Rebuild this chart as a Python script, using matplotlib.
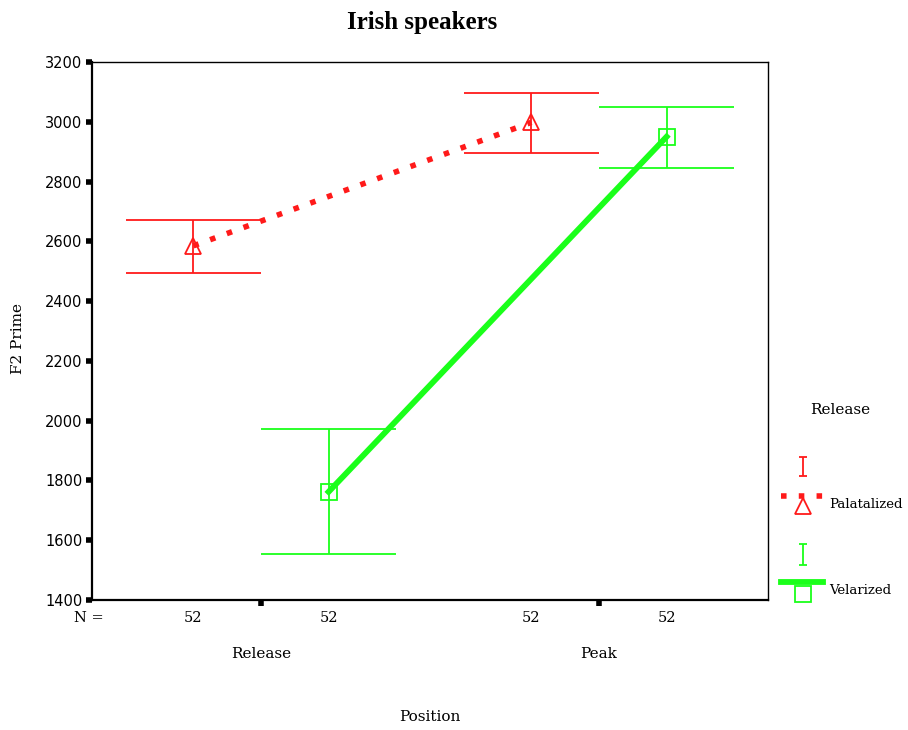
import numpy as np
import matplotlib
matplotlib.use('Agg')
import matplotlib.pyplot as plt
from matplotlib.transforms import blended_transform_factory

positions = ['Release', 'Peak']
groups = ['Palatalized', 'Velarized']
colors = ['#ff1a1a', '#1aff1a']
n_counts = [[52, 52], [52, 52]]

pal_mean = [2585, 2998]
pal_low = [2495, 2895]
pal_high = [2673, 3095]

vel_mean = [1762, 2950]
vel_low = [1555, 2845]
vel_high = [1972, 3048]

serif = 'DejaVu Serif'
sans = 'DejaVu Sans'

fig = plt.figure(figsize=(9.08, 7.30), dpi=100)
ax = fig.add_axes([92/908, 130/730, 676/908, 538/730])

x = np.arange(len(positions))
offs = [-0.2, 0.2]
capw = 0.2

series = [(pal_mean, pal_low, pal_high), (vel_mean, vel_low, vel_high)]
styles = [dict(ls=(0, (1, 2.2)), lw=4.0, marker='^', ms=12),
          dict(ls='-', lw=4.2, marker='s', ms=12)]

for i, (m, lo, hi) in enumerate(series):
    xs = x + offs[i]
    c = colors[i]
    ax.vlines(xs, lo, hi, color=c, lw=1.3, zorder=2)
    ax.hlines(lo, xs - capw, xs + capw, color=c, lw=1.3, zorder=2)
    ax.hlines(hi, xs - capw, xs + capw, color=c, lw=1.3, zorder=2)
    st = styles[i]
    ax.plot(xs, m, color=c, ls=st['ls'], lw=st['lw'], zorder=3)
    ax.plot(xs, m, ls='none', marker=st['marker'], ms=st['ms'],
            mfc='none', mec=c, mew=1.3, zorder=4)

ax.set_xlim(-0.5, 1.5)
ax.set_ylim(1400, 3200)
ax.set_yticks(np.arange(1400, 3201, 200))
ax.tick_params(axis='y', direction='out', length=4, width=4, pad=3,
               labelsize=10.5)
for lab in ax.get_yticklabels():
    lab.set_fontfamily(sans)

ax.set_xticks(x)
ax.set_xticklabels(positions, fontfamily=serif, fontsize=11)
ax.tick_params(axis='x', which='major', direction='out', length=4, width=4,
               pad=30)
minor = sorted([p + o for p in x for o in offs])
ax.set_xticks(minor, minor=True)
ax.set_xticklabels([str(n) for row in zip(*n_counts) for n in row],
                   minor=True, fontfamily=serif, fontsize=10.5)
ax.tick_params(axis='x', which='minor', length=0, pad=8)

trans = blended_transform_factory(ax.transAxes, ax.transAxes)
ax.text(-0.005, -0.033, 'N =', transform=trans, ha='center', va='center',
        fontfamily=serif, fontsize=10.5)

for s in ['left', 'bottom']:
    ax.spines[s].set_linewidth(1.6)
for s in ['top', 'right']:
    ax.spines[s].set_linewidth(1.0)

fig.text(430/908, 1 - 717/730, 'Position', ha='center', va='center',
         fontfamily=serif, fontsize=11)
fig.text(18/908, 1 - 338/730, 'F2 Prime', ha='center', va='center',
         rotation=90, fontfamily=serif, fontsize=11)
fig.text(422/908, 1 - 22/730, 'Irish speakers', ha='center', va='center',
         fontfamily='Liberation Serif', fontsize=18, fontweight='bold')

# legend drawn by hand, in pixel-like coordinates
lax = fig.add_axes([770/908, 0, 138/908, 1])
lax.set_xlim(770, 908)
lax.set_ylim(730, 0)
lax.axis('off')
lax.text(840, 410, 'Release', ha='center', va='center', fontfamily=serif,
         fontsize=11)
legend_y = [(457, 476, 496, 506, 504), (544, 565, 582, 594, 591)]
for i, (ytop, ybot, yline, ymark, ytext) in enumerate(legend_y):
    c = colors[i]
    lax.vlines(803, ytop, ybot, color=c, lw=1.3)
    lax.hlines([ytop, ybot], 799, 807, color=c, lw=1.3)
    st = styles[i]
    lax.plot([781, 823], [yline, yline], color=c, ls=st['ls'], lw=st['lw'])
    lax.plot([803], [ymark], ls='none', marker=st['marker'], ms=st['ms'],
             mfc='none', mec=c, mew=1.3)
    lax.text(829, ytext, groups[i], ha='left', va='center', fontfamily=serif,
             fontsize=9.5)

fig.savefig('out.png', dpi=100)
